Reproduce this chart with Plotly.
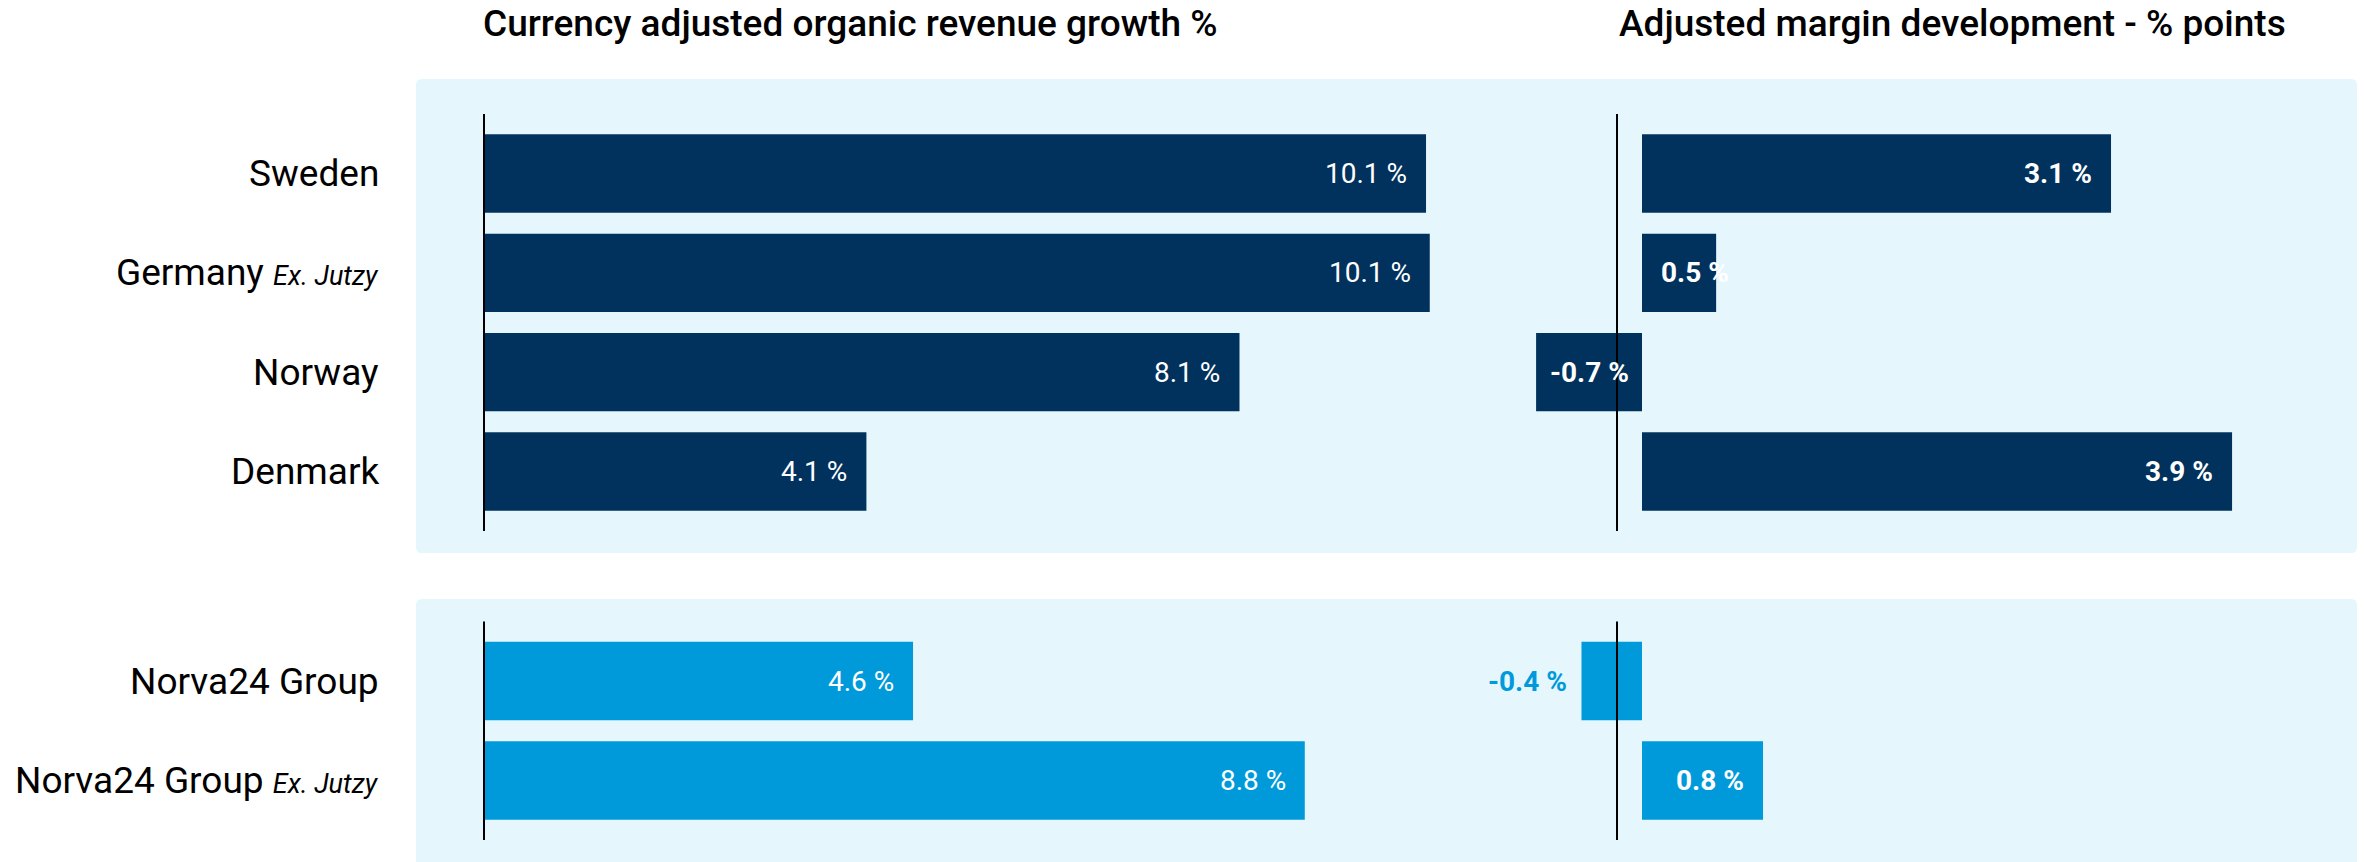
import plotly.graph_objects as go

# ---------------- data ----------------
regions = ["Sweden", "Germany", "Norway", "Denmark"]
region_labels = ["Sweden",
                 "Germany <i><span style='font-size:27px'>Ex. Jutzy</span></i>",
                 "Norway", "Denmark"]
region_growth = [10.1, 10.14, 8.1, 4.1]
region_margin = [3.1, 0.49, -0.7, 3.9]

groups = ["Norva24 Group", "Norva24 Group Ex. Jutzy"]
group_labels = ["Norva24 Group",
                "Norva24 Group <i><span style='font-size:27px'>Ex. Jutzy</span></i>"]
group_growth = [4.6, 8.8]
group_margin = [-0.4, 0.8]

growth_title = "Currency adjusted organic revenue growth %"
margin_title = "Adjusted margin development - % points"

# ---------------- style ----------------
W, H = 2364, 862
NAVY = "#00325D"
LIGHT = "#009ADB"
PANEL = "#E5F6FD"
FONT = "Roboto"
LABEL_SIZE = 28
POS_PAD = 17
NEG_PAD = 12

def px_x(p):
    return p / W

def px_y(p):
    return 1 - p / H

# axis geometry (page pixels)
L_DOM = (470, 1450); L_ZERO = 484; L_UNIT = 93.27
R_DOM = (1470, 2340); R_ZERO = 1642; R_UNIT = 151.3
TOP_DOM = (114, 531)
BOT_DOM = (621.5, 840)

l_range = [(L_DOM[0] - L_ZERO) / L_UNIT, (L_DOM[1] - L_ZERO) / L_UNIT]
r_range = [(R_DOM[0] - R_ZERO) / R_UNIT, (R_DOM[1] - R_ZERO) / R_UNIT]

CHAR_W = {".": 0.264, " ": 0.248, "%": 0.733, "-": 0.276}

def text_width(t, size):
    return sum(CHAR_W.get(c, 0.562) for c in t) * size

fig = go.Figure()

def add_bars(cats, vals, color, xa, ya):
    fig.add_trace(go.Bar(
        y=cats, x=vals, orientation="h", width=0.79,
        marker=dict(color=color, line=dict(width=0)),
        xaxis=xa, yaxis=ya, hoverinfo="skip", showlegend=False))

add_bars(regions, region_growth, NAVY, "x", "y")
add_bars(regions, region_margin, NAVY, "x2", "y")
add_bars(groups, group_growth, LIGHT, "x", "y2")
add_bars(groups, group_margin, LIGHT, "x2", "y2")

annotations = []

def add_labels(cats, vals, color, xa, ya, unit, weight):
    for c, v in zip(cats, vals):
        t = f"{v:.1f} %"
        tw = text_width(t, LABEL_SIZE)
        bar_px = abs(v) * unit
        fcolor = "white"
        if v >= 0:
            if tw + POS_PAD > bar_px:
                x, anchor, shift = 0, "left", POS_PAD
            else:
                x, anchor, shift = v, "right", -POS_PAD
        else:
            if tw + 2 * NEG_PAD <= bar_px:
                x, anchor, shift = v, "left", NEG_PAD
            else:
                x, anchor, shift = v, "right", -NEG_PAD
                fcolor = color
        annotations.append(dict(
            x=x, y=c, xref=xa, yref=ya, text=t, showarrow=False,
            xanchor=anchor, xshift=shift, yanchor="middle",
            font=dict(family=FONT, size=LABEL_SIZE, color=fcolor, weight=weight)))

add_labels(regions, region_growth, NAVY, "x", "y", L_UNIT, 400)
add_labels(regions, region_margin, NAVY, "x2", "y", R_UNIT, 700)
add_labels(groups, group_growth, LIGHT, "x", "y2", L_UNIT, 400)
add_labels(groups, group_margin, LIGHT, "x2", "y2", R_UNIT, 700)

# category labels
for cats, labs, ya in [(regions, region_labels, "y"), (groups, group_labels, "y2")]:
    for c, lab in zip(cats, labs):
        annotations.append(dict(
            x=px_x(381), y=c, xref="paper", yref=ya, text=lab, showarrow=False,
            xanchor="right", yanchor="middle",
            font=dict(family=FONT, size=37, color="#000000")))

# titles
for t, xp in [(growth_title, 481), (margin_title, 1617)]:
    annotations.append(dict(
        x=px_x(xp), y=px_y(24), xref="paper", yref="paper", text=t,
        showarrow=False, xanchor="left", yanchor="middle",
        font=dict(family=FONT, size=37, color="#000000", weight=500)))

def rounded_rect(x0, y0, x1, y1, r):
    rx, ry = r / W, r / H
    X0, X1 = px_x(x0), px_x(x1)
    Y0, Y1 = px_y(y0), px_y(y1)
    return (f"M {X0+rx},{Y0} L {X1-rx},{Y0} Q {X1},{Y0} {X1},{Y0-ry} "
            f"L {X1},{Y1+ry} Q {X1},{Y1} {X1-rx},{Y1} L {X0+rx},{Y1} "
            f"Q {X0},{Y1} {X0},{Y1+ry} L {X0},{Y0-ry} Q {X0},{Y0} {X0+rx},{Y0} Z")

shapes = [
    dict(type="path", xref="paper", yref="paper", path=rounded_rect(416, 79, 2357, 553, 6),
         fillcolor=PANEL, line=dict(width=0), layer="below"),
    dict(type="path", xref="paper", yref="paper", path=rounded_rect(416, 599, 2357, 880, 6),
         fillcolor=PANEL, line=dict(width=0), layer="below"),
]
for ya in ["y", "y2"]:
    shapes.append(dict(type="line", xref="x", x0=0, x1=0, yref=f"{ya} domain", y0=0, y1=1,
                       line=dict(color="black", width=2), layer="above"))
    shapes.append(dict(type="line", xref="paper", x0=px_x(1617), x1=px_x(1617),
                       yref=f"{ya} domain", y0=0, y1=1,
                       line=dict(color="black", width=2), layer="above"))

axis_common = dict(visible=False, fixedrange=True, showgrid=False, zeroline=False)
fig.update_layout(
    width=W, height=H, margin=dict(l=0, r=0, t=0, b=0),
    paper_bgcolor="white", plot_bgcolor="rgba(0,0,0,0)",
    showlegend=False,
    xaxis=dict(domain=[px_x(L_DOM[0]), px_x(L_DOM[1])], range=l_range, anchor="y", **axis_common),
    xaxis2=dict(domain=[px_x(R_DOM[0]), px_x(R_DOM[1])], range=r_range, anchor="y", **axis_common),
    yaxis=dict(domain=[px_y(TOP_DOM[1]), px_y(TOP_DOM[0])], type="category",
               categoryorder="array", categoryarray=regions, range=[3.6, -0.6],
               anchor="x", **axis_common),
    yaxis2=dict(domain=[px_y(BOT_DOM[1]), px_y(BOT_DOM[0])], type="category",
                categoryorder="array", categoryarray=groups, range=[1.6, -0.6],
                anchor="x", **axis_common),
    annotations=annotations, shapes=shapes,
    font=dict(family=FONT),
)

fig.write_html(
    "out.html",
    config={"displayModeBar": False, "staticPlot": True},
    post_script="document.body.style.margin='0';document.body.style.overflow='hidden';",
)
